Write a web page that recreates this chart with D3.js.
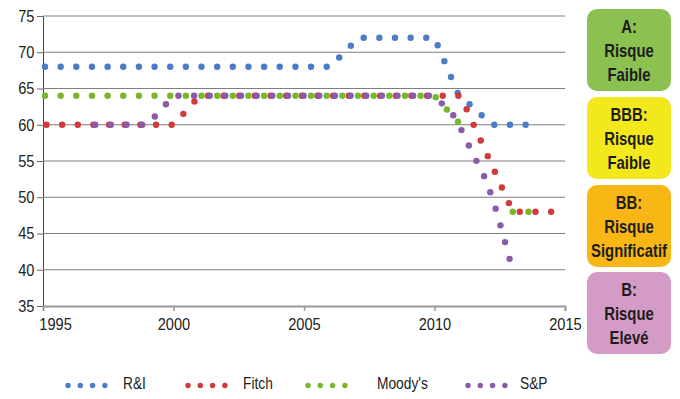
<!DOCTYPE html>
<html lang="fr">
<head>
<meta charset="UTF-8">
<title>Notations souveraines</title>
<script src="https://d3js.org/d3.v7.min.js"></script>
<style>
    body { margin: 0; background: #fff; }
    svg { display: block; font-family: "Liberation Sans", Arial, sans-serif; }
</style>
</head>
<body>
<div id="chart"></div>
<script>
// séries (année, note) - null = pas de donnée
const rniPoints = [[1995, 68], [2006, 68], [2007.1, 72], [2010, 72], [2010.9, 64.3], [2012.2, 60], [2013.5, 60]];
const fitchPoints = [[1995, 60], [2000, 60], [2001, 64], [2011, 64], [2013, 48], [2014.5, 48]];
const moodysPoints = [[1995, 64], [2010, 64], [2011, 60], null, [2013, 48], [2013.6, 48]];
const spPoints = [[1997, 60], [1999, 60], [2000, 64], [2010, 64], [2010.8, 61], [2011.4, 56.5], [2012, 52.2], [2012.4, 47.8], [2012.9, 41.2]];

const seriesNames = ["R&I", "Fitch", "Moody's", "S&P"];
const seriesColors = ["#4a7cc8", "#d13a3c", "#76b82a", "#8a5ba8"];

const yTicks = [35, 40, 45, 50, 55, 60, 65, 70, 75];
const xTicks = [1995, 2000, 2005, 2010, 2015];

const boxLabels = [["A:", "Risque", "Faible"], ["BBB:", "Risque", "Faible"], ["BB:", "Risque", "Significatif"], ["B:", "Risque", "Elevé"]];
const boxColors = ["#8cc152", "#f2e81b", "#f9b716", "#d49bc6"];

const W = 680, H = 399;
const SX = 0.86;          // texte condensé
const DOT_GAP = 15.65;    // pas du pointillé
const STRETCH = 1.12;     // le graphique d'origine est étiré verticalement
const dotPhase = [2, 3.5, 2, 0];

const svg = d3.select("#chart").append("svg").attr("width", W).attr("height", H);

const x = d3.scaleLinear().domain([1995, 2015]).range([43, 565]);
const y = d3.scaleLinear().domain([35, 75]).range([306, 16]);

// axe gauche
svg.append("g")
    .attr("transform", "translate(43,0)")
    .call(d3.axisLeft(y).tickValues(yTicks).tickSize(6).tickPadding(4))
    .call(g => g.select(".domain").attr("stroke", "#444"))
    .call(g => g.selectAll(".tick line").attr("stroke", "#666"))
    .call(g => g.selectAll(".tick text").attr("font-size", 17).attr("fill", "#222")
        .attr("font-family", "inherit").attr("transform", `scale(${SX},1)`));

// grille
svg.append("g").selectAll("line")
    .data(yTicks.filter(d => d > 35))
    .join("line")
    .attr("x1", 43).attr("x2", 565)
    .attr("y1", d => y(d)).attr("y2", d => y(d))
    .attr("stroke", "#7f7f7f").attr("stroke-width", 1);

// axe du bas
svg.append("g")
    .attr("transform", "translate(0,306)")
    .call(d3.axisBottom(x).tickValues(xTicks).tickFormat(d3.format("d")).tickSize(5).tickPadding(7))
    .call(g => g.select(".domain").attr("stroke", "#999").attr("stroke-width", 2))
    .call(g => g.selectAll(".tick line").attr("stroke", "#999").attr("stroke-width", 1.5))
    .call(g => g.selectAll(".tick text").attr("font-size", 17).attr("fill", "#222")
        .attr("font-family", "inherit").attr("transform", `scale(${SX},1)`))
    .call(g => g.selectAll(".tick").filter(d => d === 1995).select("line").remove())
    .call(g => g.selectAll(".tick").filter(d => d === 1995).select("text").attr("dx", 14));

// points régulièrement espacés le long de la ligne (comme un trait pointillé)
function dotsAlong(points, phase) {
    const out = [];
    const segs = [];
    let cur = [];
    points.forEach(p => {
        if (p == null) { if (cur.length) segs.push(cur); cur = []; }
        else cur.push([x(p[0]), y(p[1])]);
    });
    if (cur.length) segs.push(cur);
    segs.forEach((seg, si) => {
        let next = si === 0 ? phase : 0;
        let acc = 0;
        for (let i = 1; i < seg.length; i++) {
            const [x0, y0] = seg[i - 1], [x1, y1] = seg[i];
            const len = Math.hypot(x1 - x0, (y1 - y0) / STRETCH);
            while (next <= acc + len + 1e-6) {
                const t = len === 0 ? 0 : (next - acc) / len;
                out.push([x0 + t * (x1 - x0), y0 + t * (y1 - y0)]);
                next += DOT_GAP;
            }
            acc += len;
        }
    });
    return out;
}

[rniPoints, fitchPoints, moodysPoints, spPoints].forEach((pts, i) => {
    svg.append("g").selectAll("circle")
        .data(dotsAlong(pts, dotPhase[i]))
        .join("circle")
        .attr("cx", d => d[0])
        .attr("cy", d => d[1])
        .attr("r", 3.2)
        .attr("fill", seriesColors[i]);
});

// légende
const legendDotX = [68, 188, 308, 468];
const legendTextX = [123, 243, 377, 520];
seriesNames.forEach((name, i) => {
    const g = svg.append("g");
    g.selectAll("circle")
        .data(d3.range(4))
        .join("circle")
        .attr("cx", k => legendDotX[i] + k * 12.3)
        .attr("cy", 385.5)
        .attr("r", 2.7)
        .attr("fill", seriesColors[i]);
    g.append("text")
        .attr("transform", `translate(${legendTextX[i]},388.5) scale(${SX},1)`)
        .attr("font-size", 16)
        .attr("fill", "#222")
        .text(name);
});

// encadrés de risque
const boxTops = [9, 97, 185, 272];
boxLabels.forEach((lines, i) => {
    const g = svg.append("g").attr("transform", `translate(587,${boxTops[i]})`);
    g.append("rect")
        .attr("width", 84).attr("height", 82)
        .attr("rx", 10).attr("ry", 10)
        .attr("fill", boxColors[i]);
    lines.forEach((t, j) => {
        g.append("text")
            .attr("transform", `translate(42,${24 + j * 24}) scale(0.85,1)`)
            .attr("text-anchor", "middle")
            .attr("font-size", 17.5)
            .attr("font-weight", "bold")
            .attr("fill", "#1d1d1b")
            .text(t);
    });
});
</script>
</body>
</html>
